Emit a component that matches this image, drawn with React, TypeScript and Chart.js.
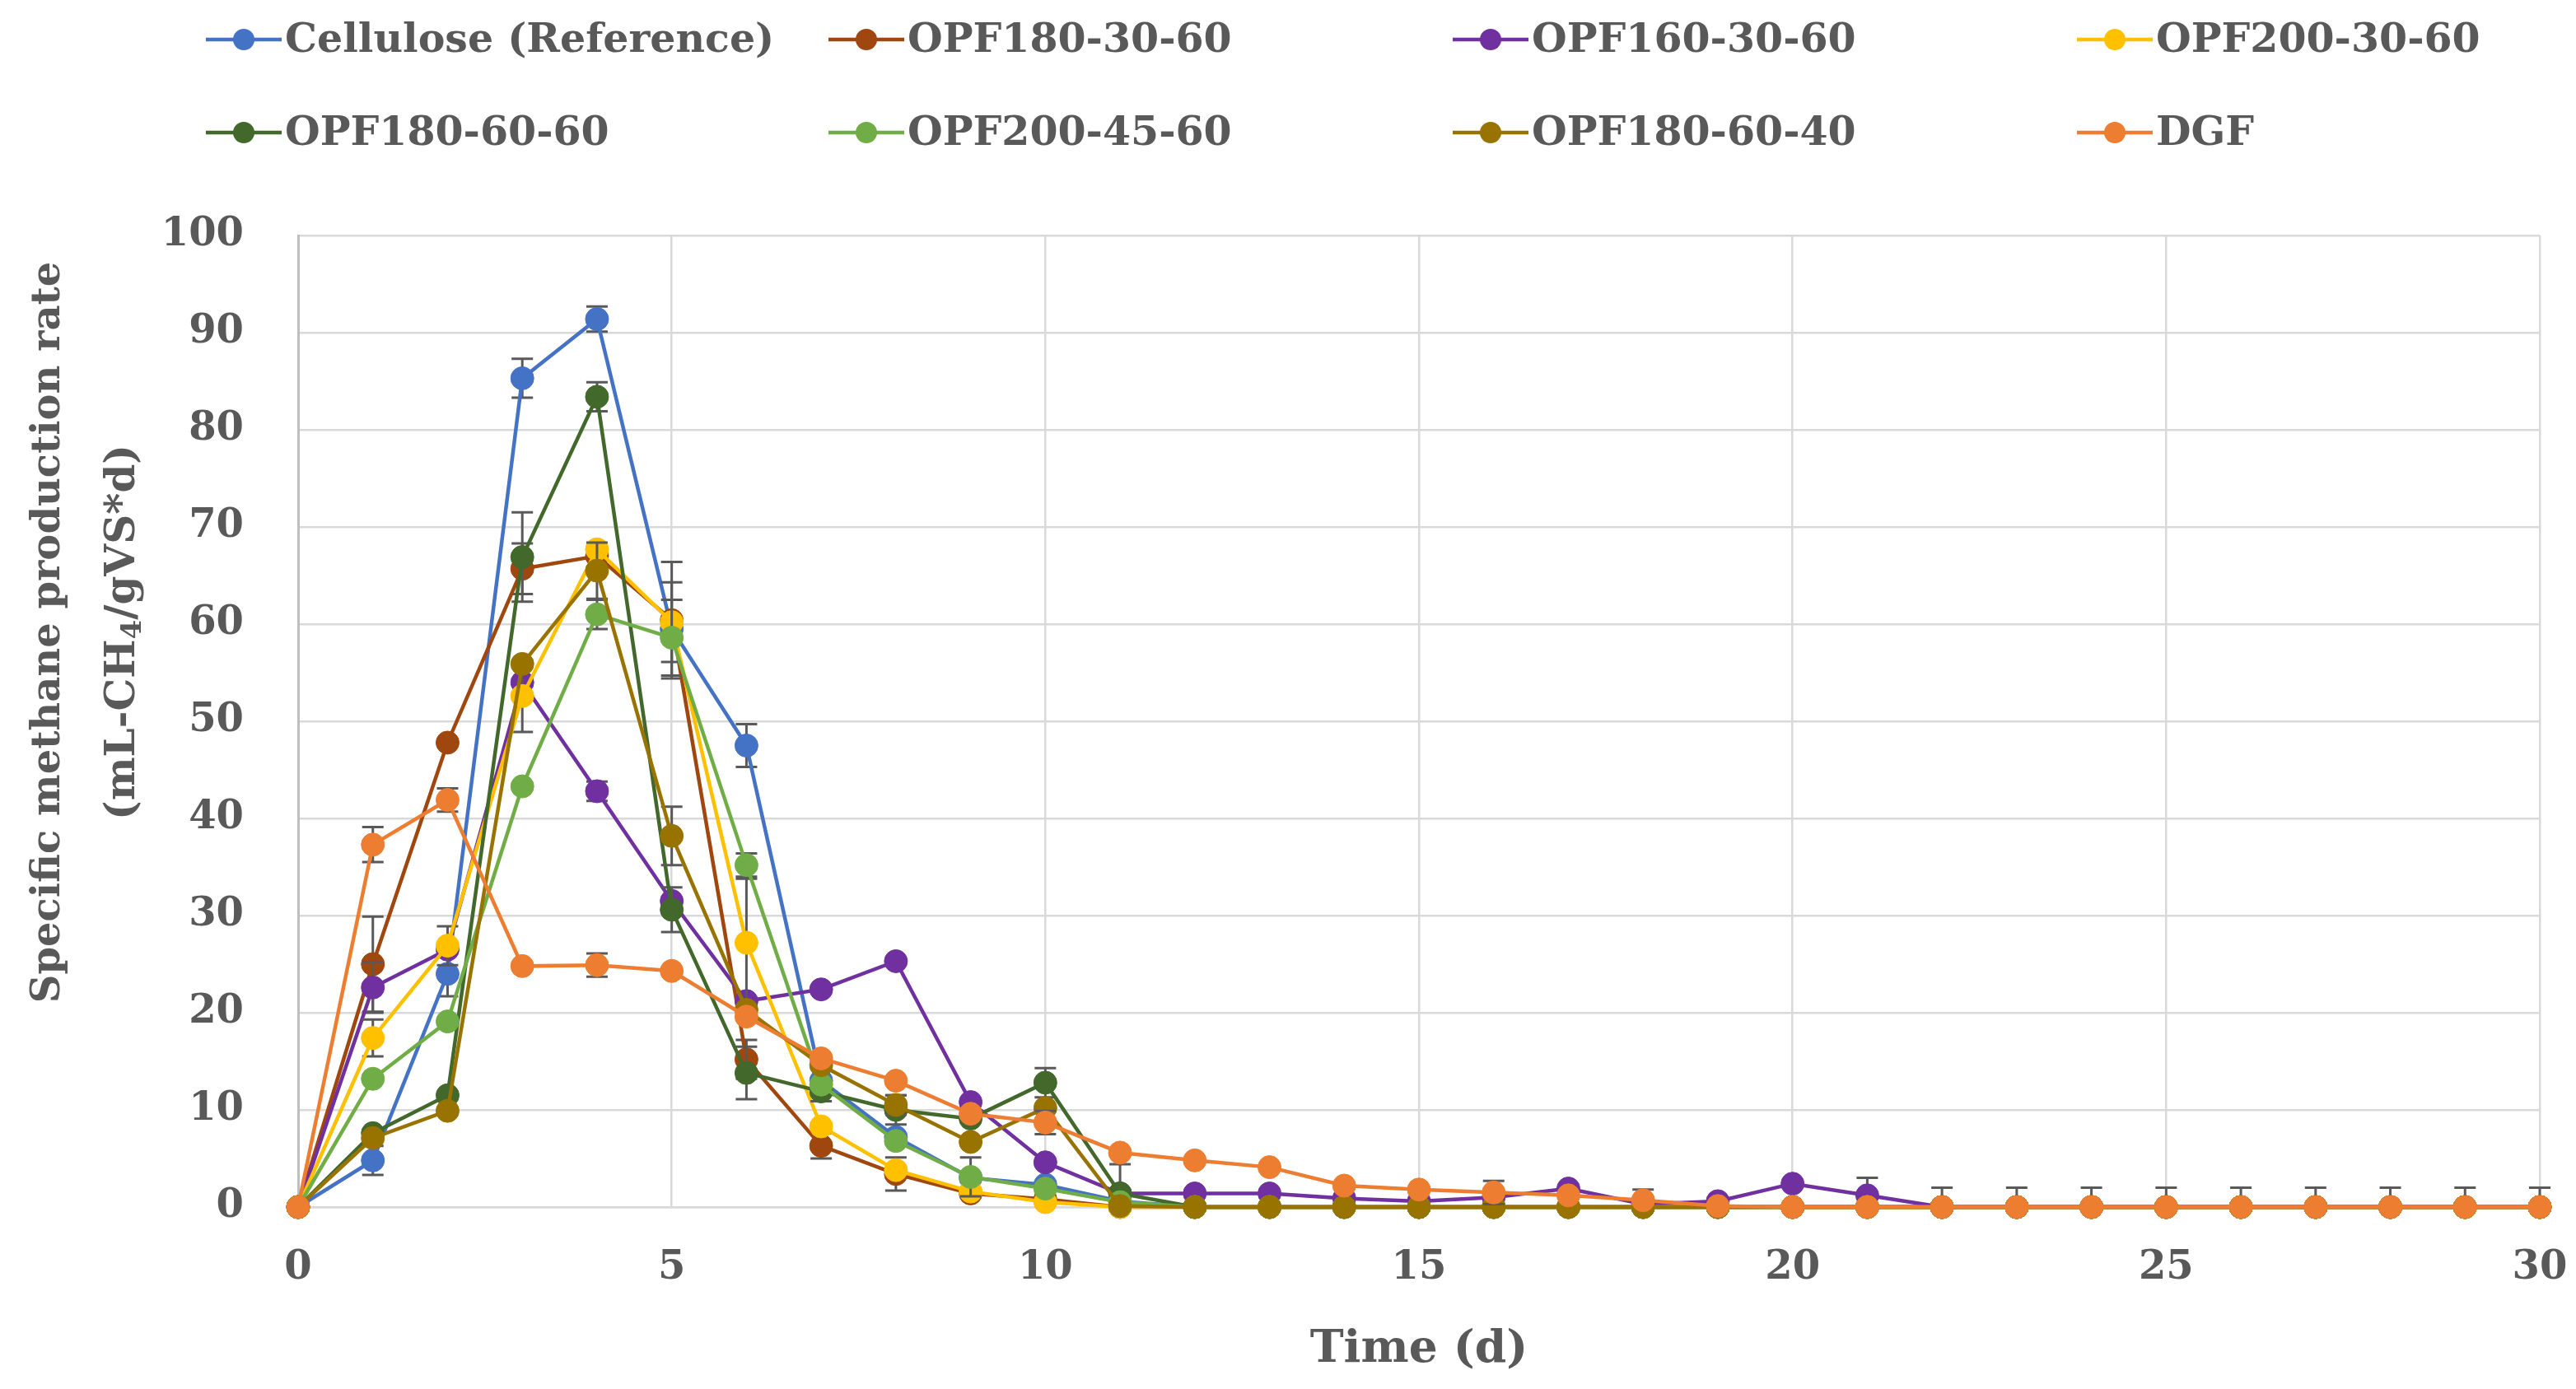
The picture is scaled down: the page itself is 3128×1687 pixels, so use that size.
import { useEffect, useRef } from 'react';
import { Chart, registerables } from 'chart.js';

Chart.register(...registerables);

const W = 3128;
const H = 1687;
const FONT = '"DejaVu Serif", serif';
const TEXT = '#595959';

const days = [0, 1, 2, 3, 4, 5, 6, 7, 8, 9, 10, 11, 12, 13, 14, 15, 16, 17, 18, 19, 20, 21, 22, 23, 24, 25, 26, 27, 28, 29, 30];

const seriesNames = [
  'Cellulose (Reference)',
  'OPF180-30-60',
  'OPF160-30-60',
  'OPF200-30-60',
  'OPF180-60-60',
  'OPF200-45-60',
  'OPF180-60-40',
  'DGF',
];
const seriesColors = ['#4472c4', '#a0460f', '#7030a0', '#ffc000', '#43682b', '#70ad47', '#997300', '#ed7d31'];

// mL-CH4/gVS*d per day
const cellulose = [0, 4.8, 24.0, 85.3, 91.4, 59.5, 47.5, 13.0, 7.2, 3.0, 2.3, 0.6, 0, 0, 0, 0, 0, 0, 0, 0, 0, 0, 0, 0, 0, 0, 0, 0, 0, 0, 0];
const opf180_30_60 = [0, 25.0, 47.8, 65.7, 67.0, 60.4, 15.2, 6.3, 3.4, 1.4, 0.8, 0, 0, 0, 0, 0, 0, 0, 0, 0, 0, 0, 0, 0, 0, 0, 0, 0, 0, 0, 0];
const opf160_30_60 = [0, 22.6, 26.5, 54.0, 42.8, 31.5, 21.2, 22.4, 25.3, 10.8, 4.6, 1.4, 1.4, 1.4, 0.9, 0.6, 1.0, 1.9, 0.3, 0.6, 2.4, 1.2, 0, 0, 0, 0, 0, 0, 0, 0, 0];
const opf200_30_60 = [0, 17.4, 26.9, 52.6, 67.7, 60.2, 27.2, 8.3, 3.8, 1.6, 0.5, 0, 0, 0, 0, 0, 0, 0, 0, 0, 0, 0, 0, 0, 0, 0, 0, 0, 0, 0, 0];
const opf180_60_60 = [0, 7.6, 11.5, 66.9, 83.4, 30.6, 13.8, 11.9, 10.0, 9.1, 12.8, 1.4, 0, 0, 0, 0, 0, 0, 0, 0, 0, 0, 0, 0, 0, 0, 0, 0, 0, 0, 0];
const opf200_45_60 = [0, 13.2, 19.1, 43.3, 61.0, 58.6, 35.2, 12.6, 6.8, 3.1, 1.9, 0.5, 0, 0, 0, 0, 0, 0, 0, 0, 0, 0, 0, 0, 0, 0, 0, 0, 0, 0, 0];
const opf180_60_40 = [0, 7.1, 9.9, 55.9, 65.5, 38.2, 20.3, 14.6, 10.5, 6.7, 10.2, 0.1, 0, 0, 0, 0, 0, 0, 0, 0, 0, 0, 0, 0, 0, 0, 0, 0, 0, 0, 0];
const dgf = [0, 37.3, 41.9, 24.8, 24.9, 24.3, 19.6, 15.3, 13.0, 9.6, 8.7, 5.6, 4.8, 4.1, 2.2, 1.8, 1.5, 1.2, 0.7, 0.1, 0, 0, 0, 0, 0, 0, 0, 0, 0, 0, 0];

// standard deviations (error bars)
const errCellulose = [0, 1.5, 2.3, 2.0, 1.3, 0, 2.2, 0, 0, 0, 0, 0, 0, 0, 0, 0, 0, 0, 0, 0, 0, 0, 0, 0, 0, 0, 0, 0, 0, 0, 0];
const err180_30_60 = [0, 4.9, 0, 2.6, 0, 6.0, 2.0, 1.3, 1.7, 0, 0, 0, 0, 0, 0, 0, 0, 0, 0, 0, 0, 0, 0, 0, 0, 0, 0, 0, 0, 0, 0];
const err160_30_60 = [0, 2.6, 0, 0, 1.0, 0, 0, 0, 0, 0, 0, 0, 0, 0, 0, 0, 0, 0, 0, 0, 0, 1.8, 0, 0, 0, 0, 0, 0, 0, 0, 0];
const err200_30_60 = [0, 1.9, 2.0, 3.7, 0, 4.1, 6.6, 0, 0, 0, 0, 0, 0, 0, 0, 0, 0, 0, 0, 0, 0, 0, 0, 0, 0, 0, 0, 0, 0, 0, 0];
const err180_60_60 = [0, 0, 0, 4.6, 1.5, 2.3, 2.7, 1.0, 1.5, 0, 1.5, 3.0, 0, 0, 0, 0, 0, 0, 0, 0, 0, 0, 0, 0, 0, 0, 0, 0, 0, 0, 0];
const err200_45_60 = [0, 0, 0, 0, 1.5, 3.9, 1.2, 0, 0, 2.0, 0, 0, 0, 0, 0, 0, 0, 0, 0, 0, 0, 0, 0, 0, 0, 0, 0, 0, 0, 0, 0];
const err180_60_40 = [0, 0, 0, 0, 2.9, 3.0, 0, 0, 1.0, 0, 0, 0, 0, 0, 0, 0, 0, 0, 0, 0, 0, 0, 0, 0, 0, 0, 0, 0, 0, 0, 0];
const errDgf = [0, 1.8, 1.2, 0, 1.2, 0, 0, 0, 0, 0, 1.2, 0, 0, 0, 0, 0, 1.2, 0, 1.1, 0, 0, 0, 2, 2, 2, 2, 2, 2, 2, 2, 2];

const seriesValues = [cellulose, opf180_30_60, opf160_30_60, opf200_30_60, opf180_60_60, opf200_45_60, opf180_60_40, dgf];
const seriesErrors = [errCellulose, err180_30_60, err160_30_60, err200_30_60, err180_60_60, err200_45_60, err180_60_40, errDgf];

const xTicks = [0, 5, 10, 15, 20, 25, 30];
const yTicks = [0, 10, 20, 30, 40, 50, 60, 70, 80, 90, 100];

const errorBars = {
  id: 'errorBars',
  beforeDatasetDraw(chart: any, args: any) {
    const ds = chart.data.datasets[args.index];
    const errs: number[] | undefined = ds.errors;
    if (!errs) return;
    const { ctx } = chart;
    const x = chart.scales.x;
    const y = chart.scales.y;
    ctx.save();
    ctx.strokeStyle = '#595959';
    ctx.lineWidth = 3;
    ds.data.forEach((p: { x: number; y: number }, i: number) => {
      const e = errs[i];
      if (!e) return;
      const px = x.getPixelForValue(p.x);
      const top = y.getPixelForValue(p.y + e);
      const low = p.y - e;
      const bot = y.getPixelForValue(Math.max(0, low));
      ctx.beginPath();
      ctx.moveTo(px, top);
      ctx.lineTo(px, bot);
      ctx.moveTo(px - 13, top);
      ctx.lineTo(px + 13, top);
      if (low >= 0) {
        ctx.moveTo(px - 13, bot);
        ctx.lineTo(px + 13, bot);
      }
      ctx.stroke();
    });
    ctx.restore();
  },
};

const legendCols = [250, 1006, 1764, 2522];
const legendRows = [48, 161];

const legendBlock = {
  id: 'legendBlock',
  afterDraw(chart: any) {
    const { ctx } = chart;
    ctx.save();
    ctx.font = `bold 49px ${FONT}`;
    ctx.textBaseline = 'middle';
    ctx.textAlign = 'left';
    seriesNames.forEach((name, i) => {
      const x0 = legendCols[i % 4];
      const y0 = legendRows[Math.floor(i / 4)];
      ctx.strokeStyle = seriesColors[i];
      ctx.fillStyle = seriesColors[i];
      ctx.lineWidth = 4.5;
      ctx.beginPath();
      ctx.moveTo(x0, y0);
      ctx.lineTo(x0 + 92, y0);
      ctx.stroke();
      ctx.beginPath();
      ctx.arc(x0 + 46, y0, 13, 0, Math.PI * 2);
      ctx.fill();
      ctx.fillStyle = TEXT;
      ctx.fillText(name, x0 + 96, y0 + 2);
    });
    ctx.restore();
  },
};

const yTitle = {
  id: 'yTitle',
  afterDraw(chart: any) {
    const { ctx } = chart;
    const cy = 768;
    ctx.save();
    ctx.fillStyle = TEXT;
    ctx.textBaseline = 'middle';
    // line 1
    ctx.save();
    ctx.translate(60, cy);
    ctx.rotate(-Math.PI / 2);
    ctx.font = `bold 48px ${FONT}`;
    ctx.textAlign = 'center';
    ctx.fillText('Specific methane production rate', 0, 0);
    ctx.restore();
    // line 2 with subscript
    ctx.save();
    ctx.translate(150, cy);
    ctx.rotate(-Math.PI / 2);
    const big = `bold 50px ${FONT}`;
    const small = `bold 34px ${FONT}`;
    const parts = [
      { t: '(mL-CH', f: big, dy: 0 },
      { t: '4', f: small, dy: 12 },
      { t: '/gVS*d)', f: big, dy: 0 },
    ];
    let total = 0;
    const widths = parts.map((p) => {
      ctx.font = p.f;
      const w = ctx.measureText(p.t).width;
      total += w;
      return w;
    });
    let cx = -total / 2;
    ctx.textAlign = 'left';
    parts.forEach((p, i) => {
      ctx.font = p.f;
      ctx.fillText(p.t, cx, p.dy);
      cx += widths[i];
    });
    ctx.restore();
    ctx.restore();
  },
};

export default function App() {
  const canvasRef = useRef<HTMLCanvasElement>(null);
  const chartRef = useRef<Chart | null>(null);

  useEffect(() => {
    document.body.style.margin = '0';
    document.body.style.overflow = 'hidden';
    if (!canvasRef.current) return;
    if (chartRef.current) chartRef.current.destroy();

    const datasets = seriesNames.map((name, i) => ({
      label: name,
      data: days.map((d, j) => ({ x: d, y: seriesValues[i][j] })),
      errors: seriesErrors[i],
      borderColor: seriesColors[i],
      backgroundColor: seriesColors[i],
      pointBackgroundColor: seriesColors[i],
      pointBorderColor: seriesColors[i],
      pointRadius: 14,
      pointBorderWidth: 1,
      borderWidth: 4.5,
      tension: 0,
      clip: false as const,
      order: seriesNames.length - i,
    }));

    chartRef.current = new Chart(canvasRef.current, {
      type: 'line',
      data: { datasets } as any,
      plugins: [errorBars, legendBlock, yTitle],
      options: {
        responsive: false,
        devicePixelRatio: 1,
        animation: false,
        layout: { padding: { top: 286, right: 44, left: 0, bottom: 0 } },
        plugins: {
          legend: { display: false },
          tooltip: { enabled: false },
        },
        scales: {
          x: {
            type: 'linear',
            min: 0,
            max: 30,
            afterBuildTicks: (scale: any) => {
              scale.ticks = xTicks.map((v) => ({ value: v }));
            },
            afterFit: (scale: any) => {
              scale.height = H - 1466;
              scale.paddingLeft = 0;
              scale.paddingRight = 0;
            },
            ticks: {
              color: TEXT,
              font: { family: FONT, size: 48, weight: 'bold' },
              padding: 46,
              maxRotation: 0,
            },
            grid: { color: '#d9d9d9', lineWidth: 2.5, drawTicks: false },
            border: { color: '#d9d9d9', width: 2.5 },
            title: {
              display: true,
              text: 'Time (d)',
              color: TEXT,
              font: { family: FONT, size: 55, weight: 'bold' },
              padding: { top: 0, bottom: 14 },
            },
          },
          y: {
            type: 'linear',
            min: 0,
            max: 100,
            afterBuildTicks: (scale: any) => {
              scale.ticks = yTicks.map((v) => ({ value: v }));
            },
            afterFit: (scale: any) => {
              scale.width = 362;
            },
            ticks: {
              color: TEXT,
              font: { family: FONT, size: 48, weight: 'bold' },
              padding: 66,
            },
            grid: { color: '#d9d9d9', lineWidth: 2.5, drawTicks: false },
            border: { color: '#bfbfbf', width: 3 },
          },
        },
      },
    });

    return () => {
      if (chartRef.current) {
        chartRef.current.destroy();
        chartRef.current = null;
      }
    };
  }, []);

  return (
    <div style={{ width: `${W}px`, height: `${H}px`, background: '#ffffff' }}>
      <canvas ref={canvasRef} width={W} height={H} style={{ display: 'block' }} />
    </div>
  );
}
